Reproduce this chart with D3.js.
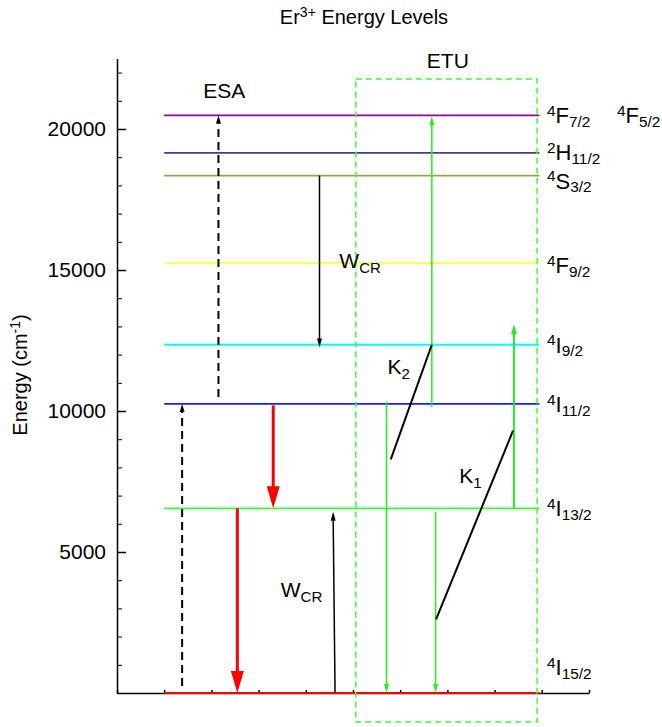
<!DOCTYPE html>
<html>
<head>
<meta charset="utf-8">
<script src="https://cdn.jsdelivr.net/npm/d3@7"></script>
<style>
  body { margin: 0; background: #fff; }
  svg { display: block; font-family: "Liberation Sans", Arial, sans-serif; }
</style>
</head>
<body>
<svg id="chart"></svg>
<script>
// energy levels of Er3+ (cm-1)
const levelSup = ['4', '4', '4', '4', '4', '4', '2', '4'];
const levelTerm = ['I', 'I', 'I', 'I', 'F', 'S', 'H', 'F'];
const levelSub = ['15/2', '13/2', '11/2', '9/2', '9/2', '3/2', '11/2', '7/2'];
const levelEnergy = [0, 6550, 10250, 12350, 15250, 18350, 19150, 20480];
const levelColor = ['#ff0000', '#33ff33', '#1a1aff', '#00ffff', '#ffff33', '#a0a040', '#3c3ca0', '#990099'];

// transitions (x in diagram units 0..10, energies in cm-1)
const arrowKind = ['esa', 'esa', 'rad', 'rad', 'wcr', 'wcr', 'etu', 'etu', 'etu', 'etuUp'];
const arrowX0 = [1.38, 2.15, 3.31, 2.55, 4.29, 4.62, 5.71, 6.75, 6.67, 8.41];
const arrowX1 = [1.38, 2.15, 3.31, 2.55, 4.29, 4.58, 5.71, 6.75, 6.67, 8.41];
const arrowFrom = [250, 10500, 10200, 6550, 18350, 0, 10330, 6430, 10150, 6550];
const arrowTo = [10250, 20480, 6550, 0, 12250, 6430, 0, 0, 20450, 13080];

// energy transfer lines K1, K2
const kX0 = [8.39, 6.67];
const kE0 = [9300, 12350];
const kX1 = [6.76, 5.8];
const kE1 = [2610, 8287];

// annotation labels
const noteMain = ['ESA', 'ETU', 'W', 'W', 'K', 'K'];
const noteSub = ['', '', 'CR', 'CR', '2', '1'];
const noteX = [2.27, 7.01, 4.71, 3.47, 5.73, 7.25];
const noteE = [21100, 22160, 15070, 3415, 11310, 7436];
const noteAnchor = ['middle', 'middle', 'start', 'start', 'start', 'start'];

// ETU box
const boxX = [5.06, 8.9];
const boxE = [-1030, 21770];

const width = 662, height = 727;
const svg = d3.select('#chart').attr('width', width).attr('height', height);

const x = d3.scaleLinear().domain([0, 10]).range([117, 589]);
const y = d3.scaleLinear().domain([0, 22500]).range([693, 58.5]);

const style = {
  esa: { color: '#000', w: 2, dash: '8,5', hw: 5, hl: 8 },
  rad: { color: '#ff0000', w: 3, dash: null, hw: 13, hl: 22 },
  wcr: { color: '#000', w: 1.5, dash: null, hw: 5, hl: 9 },
  etu: { color: '#22ee22', w: 1.5, dash: null, hw: 5, hl: 9 },
  etuUp: { color: '#22ee22', w: 2, dash: null, hw: 6, hl: 10 }
};

// axes
const yMinor = d3.axisLeft(y).tickValues(d3.range(0, 22001, 1000)).tickSize(-5).tickFormat('');
svg.append('g').attr('transform', `translate(${x(0)},0)`).call(yMinor)
  .call(g => g.select('.domain').remove());
const yAxis = d3.axisLeft(y).tickValues([5000, 10000, 15000, 20000]).tickFormat(d3.format('d'))
  .tickSizeInner(-9).tickSizeOuter(0).tickPadding(11);
svg.append('g').attr('transform', `translate(${x(0)},0)`).call(yAxis)
  .call(g => g.selectAll('text').attr('font-size', 21).attr('font-family', '"Liberation Sans", Arial, sans-serif'))
  .call(g => g.selectAll('path, line').attr('stroke-width', 1.5));
const xAxis = d3.axisBottom(x).ticks(10).tickSizeInner(-3).tickSizeOuter(0).tickFormat('');
svg.append('g').attr('transform', `translate(0,${y(0)})`).call(xAxis)
  .call(g => g.selectAll('path, line').attr('stroke-width', 1.5));

// level lines
svg.append('g').selectAll('line').data(levelEnergy).join('line')
  .attr('x1', x(1)).attr('x2', x(8.95))
  .attr('y1', d => y(d)).attr('y2', d => y(d))
  .attr('stroke', (d, i) => levelColor[i])
  .attr('stroke-width', 1.8);

// arrows
const arrows = svg.append('g');
arrowKind.forEach((k, i) => {
  const s = style[k];
  const x0 = x(arrowX0[i]), y0 = y(arrowFrom[i]);
  const x1 = x(arrowX1[i]), y1 = y(arrowTo[i]);
  const dir = Math.sign(y1 - y0);
  arrows.append('line')
    .attr('x1', x0).attr('y1', y0)
    .attr('x2', x1).attr('y2', y1 - dir * s.hl * 0.8)
    .attr('stroke', s.color).attr('stroke-width', s.w)
    .attr('stroke-dasharray', s.dash);
  const base = y1 - dir * s.hl;
  arrows.append('path')
    .attr('d', `M${x1},${y1}L${x1 - s.hw / 2},${base}L${x1 + s.hw / 2},${base}Z`)
    .attr('fill', s.color);
});

// K lines
svg.append('g').selectAll('line').data(kX0).join('line')
  .attr('x1', (d, i) => x(kX0[i])).attr('y1', (d, i) => y(kE0[i]))
  .attr('x2', (d, i) => x(kX1[i])).attr('y2', (d, i) => y(kE1[i]))
  .attr('stroke', '#000').attr('stroke-width', 2);

// ETU box
svg.append('rect')
  .attr('x', x(boxX[0])).attr('y', y(boxE[1]))
  .attr('width', x(boxX[1]) - x(boxX[0])).attr('height', y(boxE[0]) - y(boxE[1]))
  .attr('fill', 'none').attr('stroke', '#33ff33').attr('stroke-width', 1.5)
  .attr('stroke-dasharray', '6,4');

// level labels
function term(g, px, py, sup, main, sub, size) {
  const t = g.append('text').attr('x', px).attr('y', py).attr('font-size', size).attr('fill', '#000');
  const s = size * 0.7;
  t.append('tspan').attr('font-size', s).attr('dy', -size * 0.33).text(sup);
  t.append('tspan').attr('dy', size * 0.33).text(main);
  t.append('tspan').attr('font-size', s).attr('dy', size * 0.17).text(sub);
  return t;
}
const labelShift = [-26, 0, 0, 0, 2, 5, -1, 0];
const labels = svg.append('g');
levelEnergy.forEach((e, i) => {
  term(labels, 547, y(e) + 8 + labelShift[i], levelSup[i], levelTerm[i], levelSub[i], 22);
});
term(labels, 617, y(levelEnergy[7]) + 8, '4', 'F', '5/2', 22);

// annotations
noteMain.forEach((m, i) => {
  const t = svg.append('text').attr('x', x(noteX[i])).attr('y', y(noteE[i]))
    .attr('font-size', 21).attr('text-anchor', noteAnchor[i]);
  t.append('tspan').text(m);
  if (noteSub[i]) t.append('tspan').attr('font-size', 15).attr('dy', 5).text(noteSub[i]);
});

// title
const title = svg.append('text').attr('x', 364).attr('y', 24).attr('font-size', 20).attr('text-anchor', 'middle');
title.append('tspan').text('Er');
title.append('tspan').attr('font-size', 14).attr('dy', -7).text('3+');
title.append('tspan').attr('dy', 7).text(' Energy Levels');

// y label
const yl = svg.append('text').attr('transform', 'translate(27,375) rotate(-90)')
  .attr('font-size', 20).attr('text-anchor', 'middle');
yl.append('tspan').text('Energy (cm');
yl.append('tspan').attr('font-size', 14).attr('dy', -7).text('-1');
yl.append('tspan').attr('dy', 7).text(')');
</script>
</body>
</html>
